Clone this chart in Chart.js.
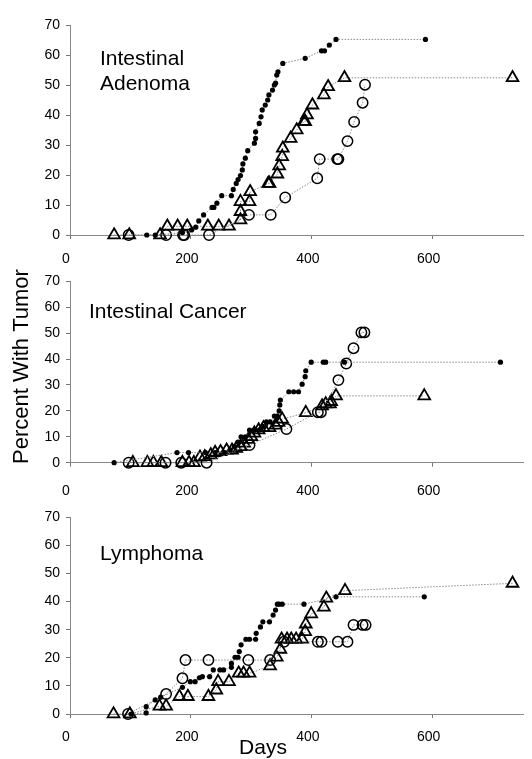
<!DOCTYPE html>
<html><head><meta charset="utf-8">
<script src="https://cdn.jsdelivr.net/npm/chart.js@4.4.0/dist/chart.umd.min.js"></script>
<style>
html,body{margin:0;padding:0;background:#fff;}
#wrap{position:relative;width:532px;height:759px;overflow:hidden;background:#fff;}
canvas{position:absolute;left:0;top:0;}
</style></head><body>
<div id="wrap">
<canvas id="c1" width="532" height="759"></canvas>
<canvas id="c2" width="532" height="759"></canvas>
<canvas id="c3" width="532" height="759"></canvas>
</div>
<script>
// ---- Data (days, percent with tumor) ----
const xTicks = [0, 200, 400, 600];
const yTicks = [0, 10, 20, 30, 40, 50, 60, 70];
const panelTitles = [["Intestinal", "Adenoma"], ["Intestinal Cancer"], ["Lymphoma"]];
const yAxisTitle = "Percent With Tumor";
const xAxisTitle = "Days";

const adenomaFilled = [[127,0],[141,0],[186,0.8],[201,1.7],[208,2.6],[213,4.7],[221,6.7],[235,9.2],[238,9.2],[243,10.6],[251,13.1],[267,13.1],[270,15.2],[275,17.2],[278,18.5],[282,19.8],[285,21.7],[286,23.7],[290,25.6],[294,28.1],[305,30.6],[307,32.2],[307,34.4],[313,37.2],[316,39.4],[318,41.7],[323,43.3],[327,45],[329,46.7],[335,48.3],[338,50],[340,50.6],[342,53.3],[344,54.4],[352,57.2],[389,58.9],[416,61.4],[421,61.4],[429,63.3],[440,65.2],[588,65.2]];
const adenomaTriangle = [[73,0],[98,0],[149,0],[161,2.9],[178,2.9],[194,2.9],[228,2.9],[246,2.9],[263,2.9],[282,5],[282,7.8],[282,11.1],[297,11.1],[298,14.4],[328,17.2],[330,17.2],[343,20.3],[346,23],[351,26.1],[352,28.9],[365,32.2],[375,35],[387,37.8],[389,37.8],[392,40],[401,43.3],[420,46.7],[427,49.4],[454,52.4],[732,52.4]];
const adenomaCircle = [[97,0],[159,0],[187,0],[189,0],[230,0],[296,6.7],[332,6.7],[356,12.5],[409,18.9],[413,25.3],[442,25.3],[444,25.3],[459,31.3],[470,37.7],[484,44.1],[488,50.1]];

const cancerFilled = [[73,0],[177,3.9],[196,3.9],[224,3.9],[240,3.9],[256,3.9],[265,5],[272,6.2],[278,8],[283,10],[290,10],[297,12.6],[305,12.6],[313,12.6],[319,14],[325,15.8],[331,15.8],[338,18],[343,18],[346,20],[347,22.3],[348,24.2],[362,27.4],[370,27.4],[378,27.4],[384,30.3],[389,33.2],[390,35.5],[399,38.8],[419,38.8],[423,38.8],[454,38.8],[712,38.8]];
const cancerTriangle = [[104,0],[128,0],[138,0],[151,0],[186,0],[197,0],[205,0],[215,2.1],[223,2.3],[233,3],[240,3.9],[249,4.2],[259,4.8],[268,4.8],[275,5.5],[282,6.2],[288,7.5],[295,9],[300,10],[305,11.4],[312,12.6],[320,13.5],[330,13.5],[340,14.5],[345,15.5],[351,16.8],[390,19.3],[417,21.9],[423,22.7],[430,22.7],[432,23.6],[440,25.8],[586,25.8]];
const cancerCircle = [[97,0],[158,0],[184,0],[226,0],[297,6.8],[358,13],[410,19.5],[415,19.5],[444,31.9],[457,38.3],[469,44.2],[482,50.3],[487,50.3]];

const lymphFilled = [[101,0],[126,0.4],[126,2.6],[141,5],[150,6],[186,9.5],[199,11.5],[207,11.5],[214,12.9],[219,13.3],[231,13.3],[237,15.7],[248,15.7],[254,15.7],[267,16.6],[267,18],[273,20.2],[278,20.2],[280,22.2],[283,24.6],[291,26.6],[297,26.6],[307,26.6],[308,28.7],[315,31],[319,32.8],[330,32.8],[336,35.2],[340,37],[343,39.1],[346,39.1],[351,39.1],[387,39.1],[440,41.7],[586,41.7]];
const lymphTriangle = [[72,0],[99,0],[148,2.8],[159,2.8],[181,6.2],[195,6.2],[229,6.2],[242,8.5],[245,11.5],[263,11.5],[279,14.5],[287,14.5],[297,14.5],[331,17.1],[342,20.2],[348,23],[350,26.6],[359,26.6],[366,26.6],[374,26.6],[384,26.6],[389,29.3],[390,32],[399,35.6],[420,38],[424,41.2],[455,43.9],[732,46.5]];
const lymphCircle = [[96,0],[159,7.1],[186,12.7],[191,19.2],[229,19.2],[295,19.2],[331,19.2],[354,25.7],[410,25.7],[416,25.7],[443,25.7],[459,25.7],[469,31.7],[484,31.7],[489,31.7]];

// ---- Rendering ----
const FONT = "'Liberation Sans', Arial, Helvetica, sans-serif";
const W = 532, H = 759;
const toXY = arr => arr.map(p => ({x: p[0], y: p[1]}));

const textPlugin = {
  id: 'texts',
  afterDraw(chart, args, opts) {
    const ctx = chart.ctx;
    (opts.items || []).forEach(it => {
      ctx.save();
      ctx.font = it.font;
      ctx.fillStyle = '#000';
      ctx.textAlign = it.align || 'left';
      ctx.textBaseline = it.baseline || 'alphabetic';
      ctx.translate(it.x, it.y);
      if (it.rotate) ctx.rotate(it.rotate);
      ctx.fillText(it.text, 0, 0);
      ctx.restore();
    });
  }
};

function lineDs(data, style) {
  const base = {
    data: toXY(data), showLine: true, borderColor: '#8a8a8a', borderWidth: 1,
    borderDash: [1.5, 1.5], clip: false, order: 1
  };
  if (style === 'dot') Object.assign(base, {pointStyle: 'circle', pointRadius: 2.6, pointBackgroundColor: '#000', pointBorderColor: '#000', pointBorderWidth: 0});
  if (style === 'tri') Object.assign(base, {pointStyle: 'triangle', pointRadius: 6.8, pointBackgroundColor: 'rgba(0,0,0,0)', pointBorderColor: '#000', pointBorderWidth: 1.8});
  if (style === 'circ') Object.assign(base, {pointStyle: 'circle', pointRadius: 5.2, pointBackgroundColor: 'rgba(0,0,0,0)', pointBorderColor: '#000', pointBorderWidth: 1.5});
  return base;
}

function makeChart(id, series, plotTop, plotBottom, labelPad, texts) {
  const xAxisH = 40;
  return new Chart(document.getElementById(id), {
    type: 'scatter',
    data: { datasets: [lineDs(series[0], 'dot'), lineDs(series[2], 'circ'), lineDs(series[1], 'tri')] },
    options: {
      responsive: false, animation: false, events: [],
      layout: { padding: { top: plotTop, left: 0, right: 0, bottom: H - plotBottom - xAxisH } },
      plugins: { legend: {display: false}, tooltip: {enabled: false}, texts: { items: texts } },
      scales: {
        x: {
          type: 'linear', min: 0, max: 750,
          afterFit: s => { s.height = xAxisH; },
          afterBuildTicks: s => { s.ticks = xTicks.map(v => ({value: v})); },
          grid: { drawOnChartArea: false, drawTicks: true, tickLength: 4, color: '#777' },
          border: { display: true, color: '#888', width: 1 },
          ticks: { padding: labelPad, color: '#000', font: { family: FONT, size: 14 }, maxRotation: 0, labelOffset: -4 }
        },
        y: {
          type: 'linear', min: 0, max: 70,
          afterFit: s => { s.width = 70; },
          afterBuildTicks: s => { s.ticks = yTicks.map(v => ({value: v})); },
          grid: { drawOnChartArea: false, drawTicks: true, tickLength: 4, color: '#777' },
          border: { display: true, color: '#888', width: 1 },
          ticks: { padding: 6, color: '#000', font: { family: FONT, size: 14 } }
        }
      }
    },
    plugins: [textPlugin]
  });
}

const titleFont = "21px " + FONT;
makeChart('c1', [adenomaFilled, adenomaTriangle, adenomaCircle], 25, 235, 12, [
  {text: panelTitles[0][0], x: 100, y: 64.5, font: titleFont},
  {text: panelTitles[0][1], x: 100, y: 89.5, font: titleFont}
]);
makeChart('c2', [cancerFilled, cancerTriangle, cancerCircle], 281.4, 462.7, 16, [
  {text: panelTitles[1][0], x: 89, y: 318.3, font: titleFont},
  {text: yAxisTitle, x: 22, y: 366.5, font: "22px " + FONT, align: 'center', baseline: 'middle', rotate: -Math.PI / 2}
]);
makeChart('c3', [lymphFilled, lymphTriangle, lymphCircle], 517.3, 714, 11, [
  {text: panelTitles[2][0], x: 100, y: 559.5, font: titleFont},
  {text: xAxisTitle, x: 263, y: 748, font: "21px " + FONT, align: 'center', baseline: 'middle'}
]);
</script>
</body></html>
